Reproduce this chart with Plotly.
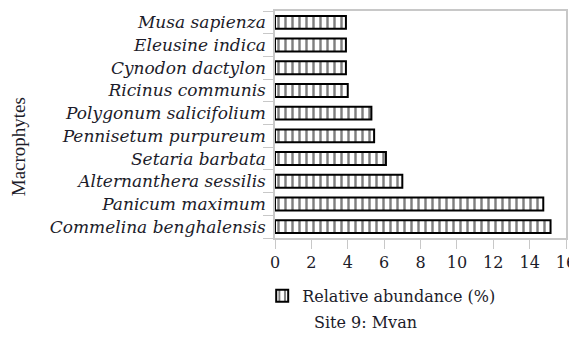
import plotly.graph_objects as go

species = ['Commelina benghalensis', 'Panicum maximum', 'Alternanthera sessilis',
           'Setaria barbata', 'Pennisetum purpureum', 'Polygonum salicifolium',
           'Ricinus communis', 'Cynodon dactylon', 'Eleusine indica', 'Musa sapienza']
abundance = [15.15, 14.75, 7.0, 6.1, 5.45, 5.3, 4.0, 3.9, 3.9, 3.9]
x_ticks = [0, 2, 4, 6, 8, 10, 12, 14, 16]

serif = 'DejaVu Serif'
ink = '#1c1c2a'

fig = go.Figure(go.Bar(
    x=abundance, y=species, orientation='h',
    name='Relative abundance (%)',
    marker=dict(color='white',
                line=dict(color='black', width=2),
                pattern=dict(shape='|', fgcolor='black', bgcolor='white',
                             size=7, solidity=0.35)),
))

fig.update_xaxes(range=[0, 16], tickvals=x_ticks, showgrid=False, zeroline=False,
                 showline=True, linecolor='#c8c8c8', linewidth=1.5, mirror=True,
                 ticks='outside', ticklen=9, tickcolor='#c8c8c8', automargin=False,
                 ticklabeloverflow='allow',
                 tickfont=dict(family=serif, size=16, color=ink))
fig.update_yaxes(showgrid=False, showline=True, linecolor='#c8c8c8', linewidth=1.5,
                 mirror=True, ticks='outside', ticklen=10, tickcolor='#c8c8c8',
                 tickson='boundaries', ticklabelstandoff=4, automargin=False,
                 tickfont=dict(family=serif, size=17, color=ink, style='italic'))

fig.add_annotation(text='Macrophytes', textangle=-90, x=-0.883, y=0.40,
                   xref='paper', yref='paper', showarrow=False,
                   xanchor='center', yanchor='middle',
                   font=dict(family='Liberation Serif', size=19, color=ink))
fig.add_annotation(text='Site 9: Mvan', x=0.31, y=-0.374,
                   xref='paper', yref='paper', showarrow=False,
                   xanchor='center', yanchor='middle',
                   font=dict(family=serif, size=16, color=ink))

# page body adds 8px around the plot, so the figure is sized to fit inside it
fig.update_layout(width=569, height=324, bargap=0.43,
                  plot_bgcolor='white', paper_bgcolor='white',
                  margin=dict(l=267, r=11, t=3, b=94, autoexpand=False),
                  showlegend=True,
                  legend=dict(x=-0.044, y=-0.18, xanchor='left', yanchor='top',
                              font=dict(family=serif, size=16, color=ink),
                              itemwidth=30))
fig.write_html('out.html')
